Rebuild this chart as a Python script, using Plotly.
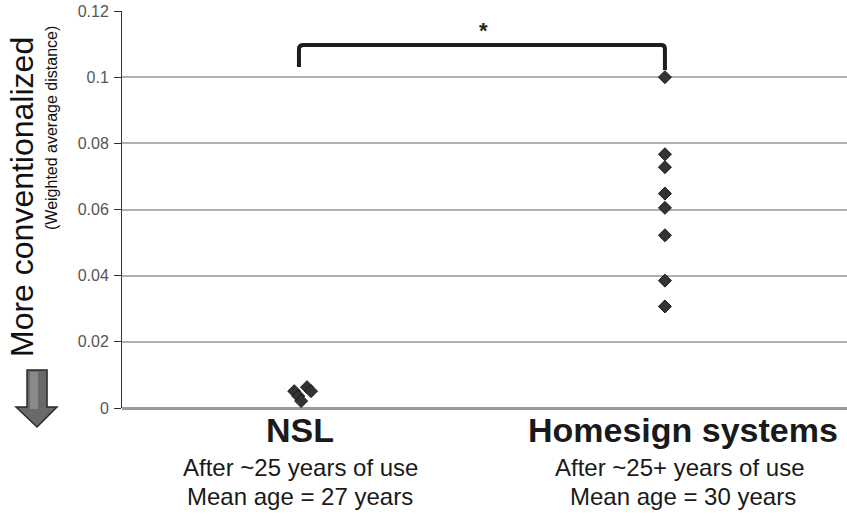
import plotly.graph_objects as go

# ---- data ----
nsl_x = [0.984, 0.995, 1.003, 1.019, 1.030]
nsl_y = [0.0051, 0.0036, 0.0021, 0.0063, 0.0051]
home_x = [2.0, 2.0, 2.0, 2.0, 2.0, 2.0, 2.0, 2.0]
home_y = [0.100, 0.0767, 0.0728, 0.0648, 0.0605, 0.0522, 0.0385, 0.0307]
y_ticks = [0, 0.02, 0.04, 0.06, 0.08, 0.1, 0.12]
y_tick_text = ["0", "0.02", "0.04", "0.06", "0.08", "0.1", "0.12"]
groups = ["NSL", "Homesign systems"]
group_line1 = ["After ~25 years of use", "After ~25+ years of use"]
group_line2 = ["Mean age = 27 years", "Mean age = 30 years"]
group_label_x = [1.0, 2.05]
group_sub_x = [1.0, 2.04]

FONT = "Liberation Sans, Arial, sans-serif"

fig = go.Figure()
marker = dict(symbol="diamond", size=10, color="#333333",
              line=dict(color="#1a1a1a", width=1))
fig.add_trace(go.Scatter(x=nsl_x, y=nsl_y, mode="markers", marker=marker,
                         showlegend=False, hoverinfo="skip"))
fig.add_trace(go.Scatter(x=home_x, y=home_y, mode="markers", marker=marker,
                         showlegend=False, hoverinfo="skip"))

# significance bracket
fig.add_shape(type="path", xref="x", yref="y",
              path="M 0.997 0.1031 L 0.997 0.1085 Q 0.997 0.1097 1.01 0.1097 "
                   "L 1.99 0.1097 Q 2.0 0.1097 2.0 0.1085 L 2.0 0.1022",
              line=dict(color="#1e1e1e", width=4))
fig.add_annotation(x=1.503, y=0.1142, xref="x", yref="y", text="<b>*</b>",
                   showarrow=False, xanchor="center", yanchor="middle",
                   font=dict(family=FONT, size=22, color="#222"))

# down arrow (left)
def px(xp):
    return (xp - 122) / 725.0
def py(yp):
    return (408 - yp) / 397.0
arrow = [(27, 370), (47, 370), (47, 407), (57, 407), (37, 427), (16, 407), (27, 407)]
path = "M " + " L ".join(f"{px(a):.4f} {py(b):.4f}" for a, b in arrow) + " Z"
fig.add_shape(type="path", xref="paper", yref="paper", path=path,
              fillcolor="#6a6a6a", line=dict(color="#2a2a2a", width=1.5))
hl = [(30, 372), (38, 372), (38, 409), (30, 409)]
path2 = "M " + " L ".join(f"{px(a):.4f} {py(b):.4f}" for a, b in hl) + " Z"
fig.add_shape(type="path", xref="paper", yref="paper", path=path2,
              fillcolor="#8a8a8a", line=dict(width=0))

# rotated axis titles
fig.add_annotation(x=px(22), y=py(197), xref="paper", yref="paper",
                   text="More conventionalized", textangle=-90, showarrow=False,
                   xanchor="center", yanchor="middle",
                   font=dict(family=FONT, size=32, color="#111"))
fig.add_annotation(x=px(51), y=py(128), xref="paper", yref="paper",
                   text="(Weighted average distance)", textangle=-90, showarrow=False,
                   xanchor="center", yanchor="middle",
                   font=dict(family=FONT, size=16, color="#111"))

# group labels
for i in range(2):
    fig.add_annotation(x=group_label_x[i], y=py(430), xref="x", yref="paper",
                       text=f"<b>{groups[i]}</b>", showarrow=False,
                       xanchor="center", yanchor="middle",
                       font=dict(family=FONT, size=34, color="#1a1a1a"))
    fig.add_annotation(x=group_sub_x[i], y=py(467), xref="x", yref="paper",
                       text=group_line1[i], showarrow=False,
                       xanchor="center", yanchor="middle",
                       font=dict(family=FONT, size=24, color="#1a1a1a"))
    fig.add_annotation(x=group_label_x[i], y=py(496),
                       xref="x", yref="paper",
                       text=group_line2[i], showarrow=False,
                       xanchor="center", yanchor="middle",
                       font=dict(family=FONT, size=24, color="#1a1a1a"))

fig.update_layout(
    width=847, height=516,
    margin=dict(l=122, r=0, t=11, b=108),
    paper_bgcolor="white", plot_bgcolor="white",
    xaxis=dict(range=[0.512, 2.499], showgrid=False, zeroline=False,
               showticklabels=False, showline=False, ticks=""),
    yaxis=dict(range=[0, 0.12], tickvals=y_ticks, ticktext=y_tick_text,
               showgrid=True, gridcolor="#b0b0b0", gridwidth=1.5,
               zeroline=True, zerolinecolor="#9a9a9a", zerolinewidth=2.5,
               showline=True, linecolor="#333333", linewidth=1,
               ticks="outside", ticklen=7, tickcolor="#333333",
               ticklabelstandoff=2,
               tickfont=dict(family=FONT, size=16, color="#555555")),
)

fig.write_html("out.html", config={"displayModeBar": False},
               post_script="document.body.style.margin='0';")
